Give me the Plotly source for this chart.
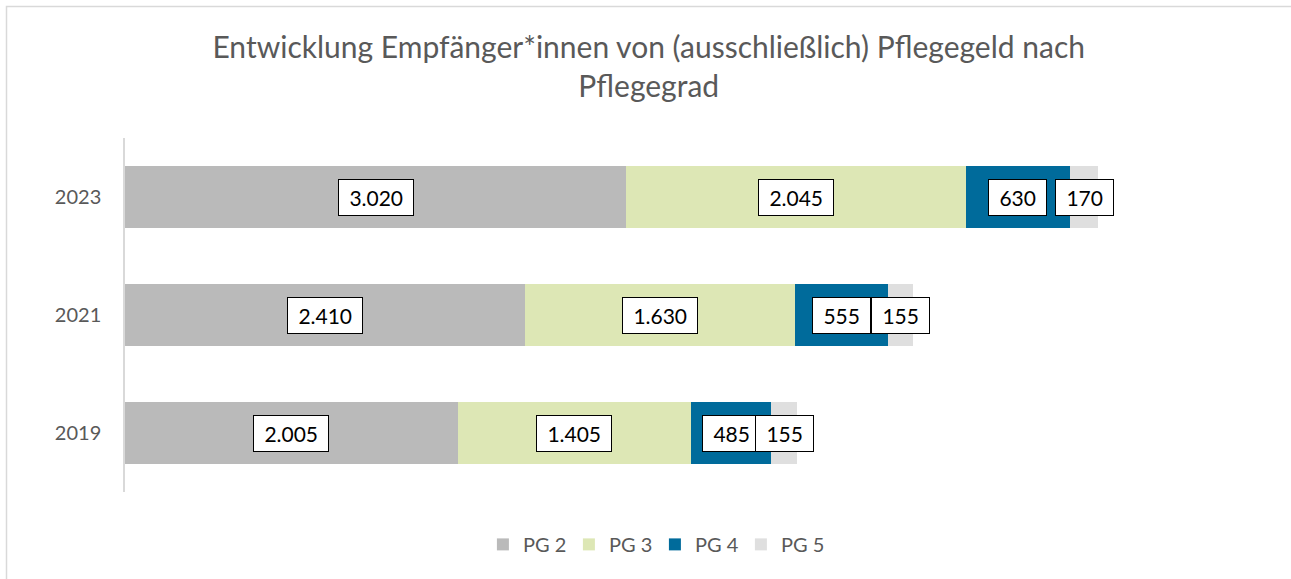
import plotly.graph_objects as go

years = ["2019", "2021", "2023"]
pg2 = [2005, 2410, 3020]
pg3 = [1405, 1630, 2045]
pg4 = [485, 555, 630]
pg5 = [155, 155, 170]
series_names = ["PG 2", "PG 3", "PG 4", "PG 5"]
series_values = [pg2, pg3, pg4, pg5]
colors = ["#BABABA", "#DDE7B5", "#006B9B", "#DFDFDF"]

FONT = "Lato"
GREY = "#595959"
NB = "\u00a0"

def fmt(v):
    return NB + f"{v:,}".replace(",", ".") + NB

fig = go.Figure()
for name, vals, col in zip(series_names, series_values, colors):
    fig.add_trace(go.Bar(
        y=years, x=vals, name=name, orientation="h",
        marker=dict(color=col, line=dict(width=0)),
        hoverinfo="x+name",
    ))

annotations = []
for i, yr in enumerate(years):
    base = 0
    for vals in series_values:
        v = vals[i]
        annotations.append(dict(
            x=base + v / 2, y=i, xref="x", yref="y",
            text=fmt(v), showarrow=False,
            font=dict(family=FONT, size=21, color="#000000"),
            bgcolor="#FFFFFF", bordercolor="#000000", borderwidth=1, borderpad=5,
        ))
        base += v

fig.update_layout(
    width=1291, height=579,
    margin=dict(l=125, r=21, t=138, b=87, autoexpand=False),
    paper_bgcolor="#FFFFFF", plot_bgcolor="#FFFFFF",
    barmode="stack", bargap=0.475,
    title=dict(
        text="Entwicklung Empfänger*innen von (ausschließlich) Pflegegeld nach<br>Pflegegrad",
        x=0.5025, xanchor="center", y=0.899, yanchor="middle",
        font=dict(family=FONT, size=30, color=GREY),
    ),
    xaxis=dict(range=[0, 6900], visible=False, fixedrange=True, automargin=False),
    yaxis=dict(
        type="category", categoryorder="array", categoryarray=years,
        range=[-0.5, 2.5], autorange=False, fixedrange=True,
        showline=True, linecolor="#D9D9D9", linewidth=1.5,
        showgrid=False, zeroline=False, automargin=False,
        tickfont=dict(family=FONT, size=20, color=GREY),
        ticks="", ticklabelstandoff=18,
    ),
    legend=dict(
        orientation="h", x=0.4628, xanchor="center", y=-0.148, yanchor="middle",
        font=dict(family=FONT, size=20, color=GREY),
        itemwidth=30, traceorder="normal",
        entrywidth=41, entrywidthmode="pixels",
    ),
    annotations=annotations,
    shapes=[dict(
        type="rect", xref="paper", yref="paper",
        x0=(6.5 - 125) / 1145, x1=(1300 - 125) / 1145,
        y0=(492 - 590) / 354, y1=(492 - 6.5) / 354,
        line=dict(color="#D9D9D9", width=1.5), fillcolor="rgba(0,0,0,0)",
        layer="below",
    )],
    showlegend=True,
)

fig.write_html("out.html", config={"displayModeBar": False},
               post_script="document.body.style.margin='0';")
